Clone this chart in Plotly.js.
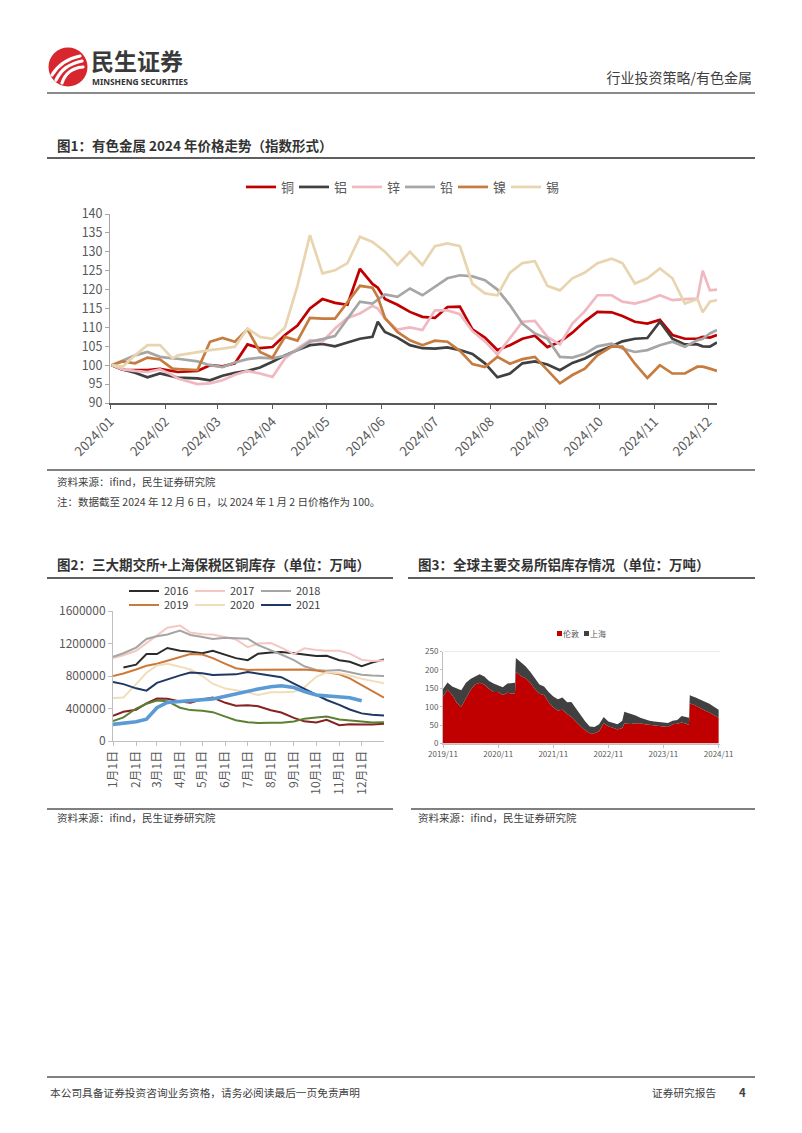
<!DOCTYPE html>
<html lang="zh-CN">
<head>
<meta charset="utf-8">
<title>行业投资策略/有色金属</title>
<script src="https://cdn.plot.ly/plotly-3.0.1.min.js"></script>
<style>
html,body{margin:0;padding:0;background:#ffffff;}
#page{position:relative;width:802px;height:1133px;overflow:hidden;background:#fff;font-family:"Noto Sans CJK SC","Noto Sans",sans-serif;color:#404040;}
#plot{position:absolute;left:0;top:0;width:802px;height:1133px;z-index:1;}
.ov{position:absolute;z-index:2;white-space:nowrap;line-height:1;}
.rule{position:absolute;z-index:2;}
.b{font-weight:700;}
</style>
</head>
<body>
<div id="page">
  <div id="plot"></div>

  <svg class="ov" style="left:47px;top:46px" width="42" height="42" viewBox="0 0 42 42">
    <circle cx="21" cy="21" r="19.5" fill="#d7262e"/>
    <path d="M5,29 C11,19 19,13 33,10" stroke="#fff" stroke-width="3.2" fill="none" stroke-linecap="round"/>
    <path d="M9,34 C14,24 21,18 35,15" stroke="#fff" stroke-width="3.2" fill="none" stroke-linecap="round"/>
    <path d="M15,37 C18,28 24,22 36,21" stroke="#fff" stroke-width="3.2" fill="none" stroke-linecap="round"/>
  </svg>
  <div class="ov b" style="left:91px;top:49px;font-size:23px;color:#3a3a3a;">民生证券</div>
  <div class="ov b" style="left:92px;top:78px;font-size:8.4px;color:#333;font-family:'Noto Sans',sans-serif;">MINSHENG SECURITIES</div>
  <div class="ov" style="right:50px;top:70px;font-size:14px;color:#404040;">行业投资策略/有色金属</div>
  <div class="rule" style="left:47px;top:92px;width:708px;height:2px;background:#8a8a8a;"></div>

  <div class="ov b" style="left:57px;top:139px;font-size:13.5px;color:#333;">图1：有色金属 2024 年价格走势（指数形式）</div>
  <div class="rule" style="left:47px;top:157px;width:708px;height:2px;background:#5f5f5f;"></div>

  <div class="rule" style="left:47px;top:469px;width:708px;height:1.5px;background:#808080;"></div>
  <div class="ov" style="left:57px;top:477px;font-size:10.5px;">资料来源：ifind，民生证券研究院</div>
  <div class="ov" style="left:57px;top:497px;font-size:10.5px;">注：数据截至 2024 年 12 月 6 日，以 2024 年 1 月 2 日价格作为 100。</div>

  <div class="ov b" style="left:57px;top:558px;font-size:13.5px;color:#333;">图2：三大期交所+上海保税区铜库存（单位：万吨）</div>
  <div class="ov b" style="left:418px;top:558px;font-size:13.5px;color:#333;">图3：全球主要交易所铝库存情况（单位：万吨）</div>
  <div class="rule" style="left:47px;top:577px;width:346px;height:2px;background:#5f5f5f;"></div>
  <div class="rule" style="left:408px;top:577px;width:347px;height:2px;background:#5f5f5f;"></div>

  <div class="ov" id="lg3" style="left:557px;top:629px;font-size:8px;color:#595959;"></div>

  <div class="rule" style="left:47px;top:808px;width:346px;height:1.5px;background:#808080;"></div>
  <div class="rule" style="left:411px;top:808px;width:344px;height:1.5px;background:#808080;"></div>
  <div class="ov" style="left:57px;top:813px;font-size:10.5px;">资料来源：ifind，民生证券研究院</div>
  <div class="ov" style="left:418px;top:813px;font-size:10.5px;">资料来源：ifind，民生证券研究院</div>

  <div class="rule" style="left:47px;top:1076px;width:708px;height:1.5px;background:#808080;"></div>
  <div class="ov" style="left:50px;top:1088px;font-size:10.7px;">本公司具备证券投资咨询业务资格，请务必阅读最后一页免责声明</div>
  <div class="ov" style="left:652px;top:1088px;font-size:10.7px;">证券研究报告</div>
  <div class="ov b" style="left:739px;top:1087px;font-size:11.5px;">4</div>
</div>

<script>
// ---------------- Figure 1: metal price index 2024 ----------------
const priceDates = ['2024-01-02','2024-01-08','2024-01-15','2024-01-22','2024-01-29',
  '2024-02-05','2024-02-08','2024-02-19','2024-02-26',
  '2024-03-04','2024-03-11','2024-03-18','2024-03-25',
  '2024-04-01','2024-04-08','2024-04-15','2024-04-22','2024-04-29',
  '2024-05-06','2024-05-13','2024-05-20','2024-05-27','2024-05-30',
  '2024-06-03','2024-06-10','2024-06-17','2024-06-24',
  '2024-07-01','2024-07-08','2024-07-15','2024-07-22','2024-07-29',
  '2024-08-05','2024-08-12','2024-08-19','2024-08-26',
  '2024-09-02','2024-09-09','2024-09-16','2024-09-23','2024-09-30',
  '2024-10-08','2024-10-14','2024-10-21','2024-10-28',
  '2024-11-04','2024-11-11','2024-11-18','2024-11-25','2024-11-28',
  '2024-12-02','2024-12-06'];
const metalNames = ['铜','铝','锌','铅','镍','锡'];
const copper = [100,98.8,98.7,98.7,99.0, 98.3,98.2,98.5,100.0, 99.7,100.5,105.5,104.5,
  104.8,108.0,110.5,115.0,117.5, 116.5,116.0,125.5,121.5,120.5, 117.5,116.0,114.1,112.8,
  112.5,115.4,115.5,109.5,107.3, 104.0,105.3,107.0,107.8, 104.8,106.2,108.6,111.6,114.1,
  114.0,113.0,111.5,111.0, 112.0,108.0,107.0,107.0,107.5, 107.3,108.0];
const aluminum = [100,98.9,98.0,96.8,97.8, 96.9,96.7,96.5,96.0, 97.2,98.0,98.5,99.4,
  100.9,102.6,104.0,105.3,105.6, 105.0,106.0,107.0,107.5,111.5, 108.8,107.3,105.3,104.5,
  104.4,104.7,104.0,103.0,100.5, 96.8,97.8,100.5,101.0, 100.2,98.7,100.6,101.8,103.5,
  105.0,106.3,107.0,107.2, 111.5,107.0,105.5,105.5,105.0, 104.9,106.0];
const zinc = [100,98.9,98.5,98.2,98.9, 97.4,96.5,95.0,95.2, 96.0,97.5,98.5,97.8,
  96.9,101.8,104.4,106.6,106.2, 109.7,112.5,113.7,115.7,115.0, 112.3,109.4,110.0,109.3,
  114.5,114.5,113.5,109.0,106.3, 102.8,107.3,111.5,111.7, 107.5,105.5,111.0,114.3,118.5,
  118.5,116.8,116.3,117.2, 118.5,117.2,117.5,117.6,125.0, 119.8,120.0];
const lead = [100,101.3,102.6,103.5,102.2, 101.8,101.7,101.0,100.0, 99.5,100.7,101.6,102.0,
  101.8,102.5,104.0,106.2,106.9, 107.7,112.3,116.8,116.3,117.4, 118.7,118.1,120.3,118.5,
  120.7,123.0,123.8,123.5,122.5, 120.0,115.9,111.0,108.4, 107.0,102.2,102.0,103.0,105.0,
  105.7,104.4,103.5,104.0, 105.3,106.2,104.9,106.6,107.0, 108.4,109.3];
const nickel = [100,101.0,100.5,102.0,101.5, 99.1,99.0,98.7,106.2, 107.2,106.2,109.5,103.5,
  102.0,107.5,106.5,112.5,112.3, 112.3,116.5,121.0,120.5,118.0, 112.5,108.8,106.6,105.3,
  106.5,106.2,103.8,100.3,99.5, 102.2,100.4,101.6,102.2, 98.7,95.2,97.4,99.1,102.6,
  104.9,104.9,100.4,96.6, 100.0,97.8,97.8,99.6,99.6, 99.1,98.5];
const tin = [100,99.6,102.6,105.3,105.3, 101.8,102.6,103.5,104.0, 104.4,104.9,109.7,107.5,
  107.0,110.0,121.0,134.4,124.3, 125.1,127.0,134.0,132.6,131.5, 130.0,126.5,130.0,126.5,
  131.5,132.2,131.5,121.5,119.0, 118.5,124.5,127.0,127.5, 121.0,119.8,123.0,124.5,127.0,
  128.2,127.0,121.6,123.0, 125.6,123.0,116.3,117.5,114.0, 116.8,117.2];
const metalSeries = [copper, aluminum, zinc, lead, nickel, tin];

// ---------------- Figure 2: copper inventory by year ----------------
const invDates = ['2001-01-01','2001-01-15','2001-02-01','2001-02-15','2001-03-01','2001-03-15',
  '2001-04-01','2001-04-15','2001-05-01','2001-05-15','2001-06-01','2001-06-15',
  '2001-07-01','2001-07-15','2001-08-01','2001-08-15','2001-09-01','2001-09-15',
  '2001-10-01','2001-10-15','2001-11-01','2001-11-15','2001-12-01','2001-12-15','2001-12-31'];
const invMonthTicks = ['2001-01-01','2001-02-01','2001-03-01','2001-04-01','2001-05-01','2001-06-01',
  '2001-07-01','2001-08-01','2001-09-01','2001-10-01','2001-11-01','2001-12-01'];
const invMonthLabels = ['1月1日','2月1日','3月1日','4月1日','5月1日','6月1日',
  '7月1日','8月1日','9月1日','10月1日','11月1日','12月1日'];
const invYears = ['2016','2017','2018','2019','2020','2021','2022','2023','2024'];
const inv2016 = [null,905000,940000,1070000,1070000,1145000,1110000,1100000,1080000,1110000,1060000,1020000,
  995000,1075000,1090000,1095000,1080000,1065000,1045000,1050000,995000,975000,920000,965000,1005000];
const inv2017 = [1020000,1055000,1110000,1210000,1300000,1395000,1420000,1335000,1315000,1310000,1275000,1250000,
  1155000,1200000,1205000,1150000,1070000,1140000,1120000,1110000,1110000,1075000,1000000,985000,990000];
const inv2018 = [1035000,1080000,1150000,1255000,1290000,1310000,1360000,1305000,1280000,1255000,1270000,1268000,
  1260000,1180000,1120000,1065000,995000,920000,875000,865000,875000,845000,815000,805000,800000];
const inv2019 = [800000,830000,880000,925000,950000,990000,1035000,1070000,1065000,1020000,950000,895000,
  875000,875000,880000,880000,880000,880000,868000,850000,820000,770000,690000,610000,535000];
const inv2020 = [530000,535000,700000,840000,930000,950000,915000,880000,800000,705000,645000,620000,
  600000,565000,600000,600000,605000,660000,790000,845000,835000,805000,765000,740000,710000];
const inv2021 = [725000,700000,648000,620000,715000,760000,808000,842000,835000,812000,812000,820000,
  848000,830000,800000,785000,705000,640000,568000,505000,445000,388000,340000,322000,315000];
const inv2022 = [310000,360000,385000,462000,522000,520000,485000,472000,512000,535000,470000,435000,
  440000,428000,378000,350000,285000,242000,228000,262000,195000,205000,202000,202000,212000];
const inv2023 = [245000,290000,400000,458000,498000,490000,410000,380000,372000,355000,300000,255000,
  232000,222000,225000,225000,240000,275000,290000,300000,265000,250000,240000,228000,230000];
const inv2024 = [205000,220000,236000,268000,410000,475000,485000,502000,508000,518000,552000,582000,
  610000,640000,668000,680000,658000,608000,565000,558000,545000,532000,495000,null,null];
const invSeries = [inv2016, inv2017, inv2018, inv2019, inv2020, inv2021, inv2022, inv2023, inv2024];

// ---------------- Figure 3: aluminium exchange stocks ----------------
const alDates = ['2019-11-01','2019-12-01','2020-01-01','2020-02-01','2020-03-01','2020-04-01','2020-05-01',
  '2020-06-01','2020-07-01','2020-08-01','2020-09-01','2020-10-01','2020-11-01','2020-12-01',
  '2021-01-01','2021-02-01','2021-02-20','2021-02-26','2021-04-01','2021-05-01','2021-06-01',
  '2021-07-01','2021-08-01','2021-09-01','2021-10-01','2021-11-01','2021-12-01',
  '2022-01-01','2022-02-01','2022-03-01','2022-04-01','2022-05-01','2022-06-01','2022-07-01',
  '2022-08-01','2022-09-01','2022-10-01','2022-11-01','2022-12-01',
  '2023-01-01','2023-02-01','2023-02-15','2023-03-01','2023-04-01','2023-05-01','2023-06-01',
  '2023-07-01','2023-08-01','2023-09-01','2023-10-01','2023-11-01','2023-12-01',
  '2024-01-01','2024-02-01','2024-03-01','2024-04-01','2024-04-18','2024-04-24','2024-05-01',
  '2024-06-01','2024-07-01','2024-08-01','2024-09-01','2024-10-01','2024-11-01'];
const alLondon = [128,146,132,110,100,122,145,160,165,160,148,140,140,132,
  138,135,136,195,183,177,165,148,135,132,112,98,90,
  92,80,72,58,47,35,28,28,33,55,47,43,
  38,42,55,54,53,55,55,52,50,48,48,46,45,
  52,54,57,54,50,110,108,103,96,90,84,77,70];
const alShanghai = [20,20,23,40,45,43,30,22,23,22,22,23,18,21,
  25,28,29,37,37,33,30,30,25,23,28,30,30,
  33,32,41,37,33,25,18,17,19,17,13,12,
  14,20,31,30,27,21,15,13,12,12,11,12,11,
  10,10,18,19,20,22,22,22,24,25,24,23,22];
const alNames = ['伦敦','上海'];
const alYearTicks = ['2019-11-01','2020-11-01','2021-11-01','2022-11-01','2023-11-01','2024-11-01'];
const alYearLabels = ['2019/11','2020/11','2021/11','2022/11','2023/11','2024/11'];

// ---------------- styles ----------------
const W = 802, H = 1133;
const fx = px => px / W;
const fy = py => 1 - py / H;
const FONT = '"Noto Sans CJK SC","Noto Sans",sans-serif';
const TXT = '#595959';
const metalColors = ['#C00000', '#404040', '#F0B9C2', '#A6A6A6', '#C67B3F', '#E8D5B0'];
const invColors = ['#2B2B2B', '#F4C7C3', '#A5A5A5', '#CC7A3C', '#F2DDBB', '#203864', '#862222', '#5B8032', '#5B9BD5'];
const alColors = ['#C00000', '#404040'];

const traces = [];
metalSeries.forEach((s, i) => {
  traces.push({type: 'scatter', mode: 'lines', x: priceDates, y: s, name: metalNames[i],
    line: {color: metalColors[i], width: 2.7}, xaxis: 'x', yaxis: 'y', legend: 'legend', hoverinfo: 'skip'});
});
invSeries.forEach((s, i) => {
  traces.push({type: 'scatter', mode: 'lines', x: invDates, y: s, name: invYears[i],
    line: {color: invColors[i], width: i === 8 ? 3.6 : 2}, connectgaps: false,
    xaxis: 'x2', yaxis: 'y2', legend: i < 3 ? 'legend2' : 'legend3',
    showlegend: i < 6, hoverinfo: 'skip'});
});
[alLondon, alShanghai].forEach((s, i) => {
  traces.push({type: 'scatter', mode: 'lines', x: alDates, y: s, name: alNames[i],
    stackgroup: 'al', line: {width: 0, color: alColors[i]}, fillcolor: alColors[i],
    xaxis: 'x3', yaxis: 'y3', showlegend: false, hoverinfo: 'skip'});
});

const axisBase = {showgrid: false, zeroline: false, showline: true, ticks: 'outside', ticklen: 4,
  tickfont: {family: FONT, color: TXT}};

const legendBase = {orientation: 'h', bgcolor: 'rgba(0,0,0,0)', entrywidthmode: 'pixels',
  traceorder: 'normal', yanchor: 'middle'};

const layout = {
  width: W, height: H, margin: {l: 0, r: 0, t: 0, b: 0},
  paper_bgcolor: '#ffffff', plot_bgcolor: 'rgba(0,0,0,0)',
  font: {family: FONT, color: TXT},
  showlegend: true,
  legend: Object.assign({}, legendBase, {x: fx(400), xanchor: 'center', y: fy(187),
    entrywidth: 8, font: {family: FONT, size: 13, color: TXT}}),
  legend2: Object.assign({}, legendBase, {x: fx(124), xanchor: 'left', y: fy(591),
    entrywidth: 21, font: {family: FONT, size: 11, color: '#404040'}}),
  legend3: Object.assign({}, legendBase, {x: fx(124), xanchor: 'left', y: fy(605),
    entrywidth: 21, font: {family: FONT, size: 11, color: '#404040'}}),
  xaxis: Object.assign({}, axisBase, {domain: [fx(110), fx(717)], anchor: 'y', type: 'date',
    range: ['2024-01-01', '2024-12-06'], tick0: '2024-01-01', dtick: 'M1', tickformat: '%Y/%m',
    tickangle: -45, linecolor: '#595959', linewidth: 2, tickcolor: '#595959',
    tickfont: {family: FONT, size: 13, color: TXT}}),
  yaxis: Object.assign({}, axisBase, {domain: [fy(403), fy(214)], anchor: 'x',
    range: [90, 140], dtick: 5, linecolor: '#a6a6a6', linewidth: 1, tickcolor: '#a6a6a6',
    tickfont: {family: FONT, size: 12.5, color: TXT}}),
  xaxis2: Object.assign({}, axisBase, {domain: [fx(113), fx(384)], anchor: 'y2', type: 'date',
    range: ['2001-01-01', '2001-12-31'], tickmode: 'array', tickvals: invMonthTicks, ticktext: invMonthLabels,
    tickangle: -90, linecolor: '#bfbfbf', tickcolor: '#bfbfbf',
    tickfont: {family: FONT, size: 12, color: TXT}}),
  yaxis2: Object.assign({}, axisBase, {domain: [fy(741), fy(611)], anchor: 'x2',
    range: [0, 1600000], dtick: 400000, tickformat: 'd', linecolor: '#bfbfbf', tickcolor: '#bfbfbf',
    tickfont: {family: FONT, size: 12, color: TXT}}),
  xaxis3: Object.assign({}, axisBase, {domain: [fx(443), fx(720)], anchor: 'y3', type: 'date',
    range: ['2019-11-01', '2024-11-10'], tickmode: 'array', tickvals: alYearTicks, ticktext: alYearLabels,
    tickangle: 0, ticklen: 3, linecolor: '#bfbfbf', tickcolor: '#bfbfbf',
    tickfont: {family: FONT, size: 8, color: TXT}}),
  yaxis3: Object.assign({}, axisBase, {domain: [fy(743.5), fy(651.5)], anchor: 'x3',
    range: [0, 250], dtick: 50, ticklen: 2, linecolor: '#bfbfbf', tickcolor: '#bfbfbf',
    tickfont: {family: FONT, size: 8, color: TXT}}),
  shapes: [{type: 'line', xref: 'x3 domain', yref: 'y3', x0: 0, x1: 1, y0: 250, y1: 250,
    line: {color: '#d9d9d9', width: 1}}]
};

Plotly.newPlot('plot', traces, layout, {staticPlot: true, displayModeBar: false});

// legend of figure 3 (small squares + names)
const lg3 = document.getElementById('lg3');
lg3.innerHTML = alNames.map((n, i) =>
  '<span style="display:inline-block;width:5px;height:5px;background:' + alColors[i] +
  ';margin-right:1px;vertical-align:middle;"></span><span style="vertical-align:middle;margin-right:5px;">' + n + '</span>'
).join('');
</script>
</body>
</html>
